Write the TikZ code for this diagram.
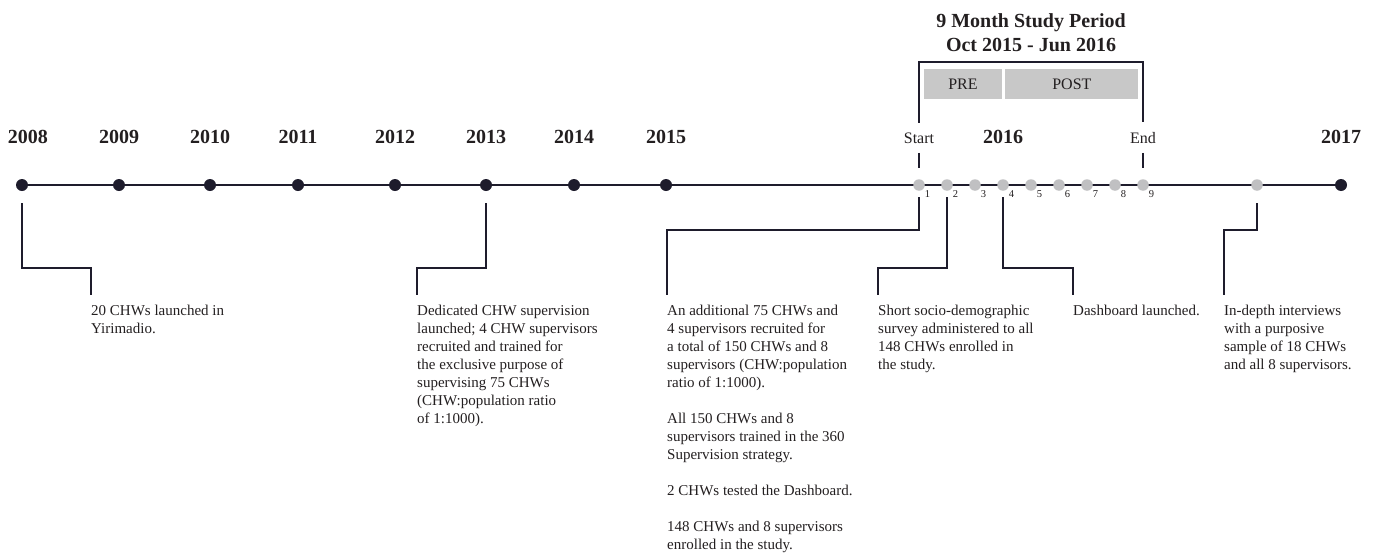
\documentclass[tikz,border=0pt]{standalone}
\usepackage{fontspec}
\setmainfont{Liberation Serif}
\usepackage{tikz}
\usetikzlibrary{positioning,backgrounds}

\definecolor{ink}{RGB}{30,28,44}
\definecolor{dotgray}{RGB}{192,192,194}
\definecolor{boxgray}{RGB}{200,200,200}
\definecolor{txt}{RGB}{35,31,32}

\begin{document}
\begin{tikzpicture}[x=1pt, y=-1pt,
  yr/.style = {circle, fill=ink, inner sep=0pt, minimum size=12pt},
  mo/.style = {circle, fill=dotgray, inner sep=0pt, minimum size=11.5pt},
  yrlab/.style = {font=\fontsize{20}{24}\selectfont\bfseries, text=txt, inner sep=0pt},
  lab/.style = {font=\fontsize{16}{19}\selectfont, text=txt, inner sep=0pt},
  num/.style = {font=\fontsize{10.5}{12}\selectfont, text=txt, inner sep=0.5pt, label distance=1.2pt},
  body/.style = {font=\fontsize{15}{18}\selectfont, text=txt, inner sep=0pt, align=left, anchor=north west},
  phase/.style = {fill=boxgray, font=\fontsize{16}{19}\selectfont, text=txt, minimum height=30pt, inner sep=0pt},
  conn/.style = {draw=ink, line width=2pt}]

\useasboundingbox (0,0) rectangle (1374,552);

% years
\node[yr] (Y1) at (22, 185) {};
\node[yr] (Y2) at (119, 185) {};
\node[yr] (Y3) at (210, 185) {};
\node[yr] (Y4) at (298, 185) {};
\node[yr] (Y5) at (395, 185) {};
\node[yr] (Y6) at (486, 185) {};
\node[yr] (Y7) at (574, 185) {};
\node[yr] (Y8) at (666, 185) {};
\node[yr] (Y9) at (1341, 185) {};

\node[yrlab, above=35pt of Y1, xshift=6pt] {2008};
\node[yrlab, above=35pt of Y2] {2009};
\node[yrlab, above=35pt of Y3] {2010};
\node[yrlab, above=35pt of Y4] {2011};
\node[yrlab, above=35pt of Y5] {2012};
\node[yrlab, above=35pt of Y6] {2013};
\node[yrlab, above=35pt of Y7] {2014};
\node[yrlab, above=35pt of Y8] {2015};
\node[yrlab, above=35pt of Y9] {2017};

% study months
\node[mo, label={[num]-45:1}] (M1) at (919, 185) {};
\node[mo, label={[num]-45:2}] (M2) at (947, 185) {};
\node[mo, label={[num]-45:3}] (M3) at (975, 185) {};
\node[mo, label={[num]-45:4}] (M4) at (1003, 185) {};
\node[mo, label={[num]-45:5}] (M5) at (1031, 185) {};
\node[mo, label={[num]-45:6}] (M6) at (1059, 185) {};
\node[mo, label={[num]-45:7}] (M7) at (1087, 185) {};
\node[mo, label={[num]-45:8}] (M8) at (1115, 185) {};
\node[mo, label={[num]-45:9}] (M9) at (1143, 185) {};
\node[mo] (I1) at (1257, 185) {};

\node[yrlab, above=35.25pt of M4] {2016};
\node[lab, above=35.25pt of M1] (LS) {Start};
\node[lab, above=35.25pt of M9] (LE) {End};

\begin{scope}[on background layer]
\draw[draw=ink, line width=1.6pt] (Y1.center) -- (Y9.center);
\end{scope}

% study period
\node[yrlab, align=center] (TT) at (1031, 33) {9 Month Study Period\\Oct 2015 - Jun 2016};
\node[phase, minimum width=78pt] (PRE) at (963, 84) {PRE};
\node[phase, minimum width=133pt, right=3pt of PRE] (POST) {POST};

\draw[conn] ([yshift=10pt]LS.north) -- ++(0,-61) -| ([yshift=10pt]LE.north);
\draw[conn] ([yshift=-9pt]LS.south) -- ([yshift=11.5pt]M1.north);
\draw[conn] ([yshift=-9pt]LE.south) -- ([yshift=11.5pt]M9.north);

% events
\node[body] (T1) at (91, 305) {20 CHWs launched in\\Yirimadio.};
\node[body] (T2) at (417, 305) {Dedicated CHW supervision\\launched; 4 CHW supervisors\\recruited and trained for\\the exclusive purpose of\\supervising 75 CHWs\\(CHW:population ratio\\of 1:1000).};
\node[body] (T3) at (667, 305) {An additional 75 CHWs and\\4 supervisors recruited for\\a total of 150 CHWs and 8\\supervisors (CHW:population\\ratio of 1:1000).\\[18pt]All 150 CHWs and 8\\supervisors trained in the 360\\Supervision strategy.\\[18pt]2 CHWs tested the Dashboard.\\[18pt]148 CHWs and 8 supervisors\\enrolled in the study.};
\node[body] (T4) at (878, 305) {Short socio-demographic\\survey administered to all\\148 CHWs enrolled in\\the study.};
\node[body] (T5) at (1073, 305) {Dashboard launched.};
\node[body] (T6) at (1224, 305) {In-depth interviews\\with a purposive\\sample of 18 CHWs\\and all 8 supervisors.};

\draw[conn] ([yshift=-18pt]Y1.center) -- ++(0,65) -| ([yshift=10pt]T1.north west);
\draw[conn] ([yshift=-18pt]Y6.center) -- ++(0,65) -| ([yshift=10pt]T2.north west);
\draw[conn] ([yshift=-12pt]M1.center) -- ++(0,33) -| ([yshift=10pt]T3.north west);
\draw[conn] ([yshift=-12pt]M2.center) -- ++(0,71) -| ([yshift=10pt]T4.north west);
\draw[conn] ([yshift=-12pt]M4.center) -- ++(0,71) -| ([yshift=10pt]T5.north west);
\draw[conn] ([yshift=-18pt]I1.center) -- ++(0,27) -| ([yshift=10pt]T6.north west);

\end{tikzpicture}
\end{document}
